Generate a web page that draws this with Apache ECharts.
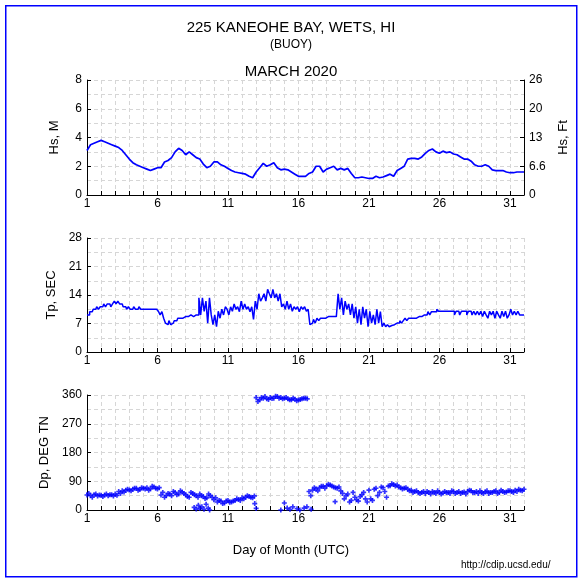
<!DOCTYPE html>
<html><head><meta charset="utf-8">
<script src="https://cdn.jsdelivr.net/npm/echarts@6/dist/echarts.min.js"></script>
<style>html,body{margin:0;padding:0;background:#fff}#c{width:582px;height:581px}</style>
</head><body><div id="c"></div>
<script>
// Hs: 4 samples per day starting March 1 00:00 (day value 1.0)
const hsM = [
 3.1,3.5,3.6,3.7, 3.8,3.7,3.6,3.5, 3.4,3.3,3.1,2.8, 2.5,2.25,2.1,2.0,
 1.9,1.8,1.7,1.8, 1.9,1.9,2.3,2.4, 2.6,3.0,3.25,3.1, 2.8,3.0,2.8,2.6,
 2.5,2.15,1.9,2.0, 2.3,2.3,2.1,2.0, 1.85,1.7,1.6,1.55, 1.5,1.45,1.3,1.2,
 1.6,1.9,2.2,2.0, 2.1,2.25,1.9,1.75, 1.8,1.75,1.6,1.45, 1.3,1.3,1.3,1.5,
 1.6,2.0,2.0,1.6, 1.8,1.9,2.0,1.75, 1.85,1.75,1.85,1.5, 1.2,1.2,1.25,1.2,
 1.15,1.15,1.3,1.2, 1.25,1.35,1.45,1.3, 1.7,1.85,2.0,2.5, 2.55,2.55,2.5,2.65,
 2.9,3.1,3.2,3.0, 2.9,3.05,2.95,3.0, 2.85,2.8,2.65,2.5, 2.5,2.35,2.1,2.0,
 2.0,2.1,2.0,1.75, 1.7,1.7,1.7,1.6, 1.55,1.55,1.6,1.6, 1.6
];
// Tp: 8 samples per day starting March 1 00:00
const tpSec = [
 9.1,9.1,9.9,9.9,10.5,10.5,11.1,10.5,
 11.1,11.1,11.8,11.1,11.8,11.8,11.1,11.8,
 12.5,11.8,12.5,11.8,11.8,11.1,11.1,10.5,
 11.1,10.5,10.5,11.1,10.5,10.5,11.1,10.5,
 10.5,10.5,10.5,10.5,10.5,10.5,10.5,10.5,
 10.5,10.0,9.1,9.9,8.3,7.1,6.7,7.7,
 6.7,7.1,7.7,7.7,8.3,8.3,8.3,8.7,
 8.7,8.7,8.7,9.1,8.7,8.7,9.1,9.1,
 13.3,9.1,13.3,10.0,12.5,7.1,13.3,9.1,
 6.7,9.1,6.2,10.0,8.3,10.5,9.1,11.1,
 10.5,9.1,11.1,10.0,11.8,10.5,11.1,9.9,
 12.5,10.5,11.8,10.5,11.1,9.9,11.1,8.0,
 12.5,10.5,14.3,12.5,13.3,14.3,12.5,15.4,
 14.3,13.3,15.4,13.3,14.3,12.5,14.3,11.1,
 11.8,10.5,12.5,10.5,11.8,10.0,11.1,10.5,
 11.1,9.9,11.1,10.5,11.1,10.0,10.5,6.7,
 7.1,8.0,7.1,8.3,7.7,8.3,8.3,8.3,
 8.7,8.7,8.7,8.7,8.7,8.7,8.3,14.3,
 10.5,13.3,9.1,12.5,10.5,11.8,9.1,11.8,
 8.3,11.1,7.1,10.5,6.7,11.1,8.3,10.5,
 6.2,10.0,7.1,9.1,6.7,10.5,7.1,9.9,
 6.2,7.1,6.2,6.7,6.2,6.5,6.7,6.7,
 7.1,7.1,7.7,7.1,7.7,8.3,7.7,8.3,
 8.3,8.3,8.7,8.3,8.7,9.1,8.7,9.1,
 9.1,9.1,9.9,9.1,9.9,9.9,9.9,10.5,
 10.0,10.0,10.0,10.0,10.0,10.0,10.0,10.0,
 10.0,9.1,10.0,10.0,9.1,10.0,10.0,10.0,
 9.1,10.0,10.0,9.1,10.0,9.1,10.0,9.1,
 10.0,8.7,10.0,9.1,8.3,10.0,9.1,10.0,
 8.3,10.0,9.1,8.3,10.0,8.7,10.0,8.3,
 9.1,10.5,9.1,10.0,9.1,10.0,9.1,9.1,
 9.1
];
// Dp at 00,06,12,18 UTC
const dpMain = [
 47,45,48,44, 46,47,45,48, 50,58,60,62, 63,65,68,64, 68,70,66,72, 66,47,40,52,
 45,55,50,56, 48,40,52,45, 50,42,38,45, 32,25,28,22, 30,25,30,33, 38,40,42,38,
 352,345,350,348, 352,350,355,352, 350,348,345,347, 344,348,350,58,
 62,66,70,74, 76,78,72,68, 60,35,50,30, 40,28,48,35, 62,30,68,55, 70,40,76,80,
 78,70,68,65, 62,58,55,55, 52,55,58,52, 55,53,55,52, 58,55,52,56, 58,60,55,52,
 55,57,52,55, 60,55,58,56, 60,55,58,62, 65
];
// Dp at 03,09,15,21 UTC
const dpOff = [
 52,40,50,47, 42,50,48,44, 46,52,56,65, 60,68,62,70, 66,62,74,68, 70,55,45,50,
 58,48,60,52, 42,55,48,40, 45,36,50,40, 38,30,20,28, 24,28,35,30, 35,45,40,44,
 340,352,355,346, 349,356,350,348, 352,345,350,342, 346,350,348,45,
 70,60,74,68, 80,75,70,72, 52,45,25,55, 32,42,55,25, 35,65,45,72, 58,75,82,75,
 72,66,70,60, 55,60,52,58, 58,50,55,60, 50,58,55,60, 52,58,55,50, 62,55,58,60,
 52,60,55,58, 52,62,55,60, 58,62,65,60
];
const dpLowDays = [8.6,8.75,8.9,9.0,9.15,9.3,9.45,9.6,9.7,12.9,13.0,14.75,15.0,15.2,15.4,15.6,15.9,16.1,16.4,16.6,16.9,18.6];
const dpLowVals = [8,3,15,5,10,2,18,6,0,20,5,0,22,6,2,10,4,0,6,10,2,26];

const dayLabels = ['1','6','11','16','21','26','31'];
const ftLabels = ['0','6.6','13','20','26'];
const mLabels = ['0','2','4','6','8'];

const blue = '#0000ff';
const FONT = 'Liberation Sans';
const plus = 'path://M2,0H4V2H6V4H4V6H2V4H0V2H2Z';

const grids = [
  {left:87, right:58, top:80, height:115},
  {left:87, right:58, top:238, height:114},
  {left:87, right:58, top:395, height:115}
];
function xAx(i){
  return {type:'value', gridIndex:i, min:1, max:32, interval:1,
    axisLine:{show:true, onZero:false, lineStyle:{color:'#000', width:1}},
    axisTick:{show:true, inside:true, length:4, lineStyle:{color:'#000'}},
    axisLabel:{color:'#000', fontFamily:FONT, fontSize:12, margin:3, showMinLabel:true, showMaxLabel:true,
      formatter:v=> dayLabels.indexOf(String(v))>=0 ? String(v) : ''},
    splitLine:{show:true, lineStyle:{color:'#d6d6d6', type:[4,3]}}};
}
function yAx(i, max, intv, name, gap){
  return {type:'value', gridIndex:i, min:0, max:max, interval:intv,
    name:name, nameLocation:'middle', nameGap:gap, nameRotate:90,
    nameTextStyle:{color:'#000', fontFamily:FONT, fontSize:13},
    axisLine:{show:true, onZero:false, lineStyle:{color:'#000'}},
    axisTick:{show:true, inside:true, length:4, lineStyle:{color:'#000'}},
    axisLabel:{color:'#000', fontFamily:FONT, fontSize:12, margin:5},
    splitLine:{show:true, lineStyle:{color:'#d6d6d6', type:[4,3]}},
    minorTick:{show:false, splitNumber:2},
    minorSplitLine:{show:true, lineStyle:{color:'#d6d6d6', type:[4,3]}}};
}
const yTop = yAx(0, 8, 2, 'Hs, M', 26);
yTop.axisLabel.formatter = v => mLabels[v/2];
const yRight = {type:'value', gridIndex:0, position:'right', min:0, max:8, interval:2,
  name:'Hs, Ft', nameLocation:'middle', nameGap:14, nameRotate:90,
  nameTextStyle:{color:'#000', fontFamily:FONT, fontSize:13},
  axisLine:{show:true, onZero:false, lineStyle:{color:'#000'}},
  axisTick:{show:true, inside:true, length:4, lineStyle:{color:'#000'}},
  axisLabel:{color:'#000', fontFamily:FONT, fontSize:12, margin:5, formatter:v=>ftLabels[v/2]},
  splitLine:{show:false}};

const hsData = hsM.map((v,i)=>[1+i/4, v]);
const tpData = tpSec.map((v,i)=>[1+i/8, v]);
const dpData1 = dpMain.map((v,i)=>[1+i/4, v]);
const dpData2 = dpOff.map((v,i)=>[1.125+i/4, v]);
const dpData3 = dpLowDays.map((d,i)=>[d, dpLowVals[i]]);

const chart = echarts.init(document.getElementById('c'), null, {renderer:'canvas'});
chart.setOption({
  backgroundColor:'#fff',
  animation:false,
  title:[
    {text:'225 KANEOHE BAY, WETS, HI', left:'center', top:15, textStyle:{fontFamily:FONT, fontSize:15, fontWeight:'normal', color:'#000'}},
    {text:'(BUOY)', left:'center', top:34, textStyle:{fontFamily:FONT, fontSize:12, fontWeight:'normal', color:'#000'}},
    {text:'MARCH 2020', left:'center', top:59, textStyle:{fontFamily:FONT, fontSize:15, fontWeight:'normal', color:'#000'}},
    {text:'Day of Month (UTC)', left:'center', top:539, textStyle:{fontFamily:FONT, fontSize:13, fontWeight:'normal', color:'#000'}},
    {text:'http://cdip.ucsd.edu/', left:456, top:555, textStyle:{fontFamily:FONT, fontSize:10, fontWeight:'normal', color:'#000'}}
  ],
  graphic:[{type:'rect', left:5, top:5, shape:{x:0, y:0, width:571, height:571}, style:{fill:'transparent', stroke:'#0000ff', lineWidth:1.5}, silent:true, z:100}],
  grid:grids,
  xAxis:[xAx(0), xAx(1), xAx(2)],
  yAxis:[yTop, yRight, yAx(1, 28, 7, 'Tp, SEC', 26), yAx(2, 360, 90, 'Dp, DEG TN', 26)],
  series:[
    {type:'line', xAxisIndex:0, yAxisIndex:0, data:hsData, symbol:'none', lineStyle:{color:blue, width:1.7}},
    {type:'line', xAxisIndex:1, yAxisIndex:2, data:tpData, symbol:'none', step:'middle', lineStyle:{color:blue, width:1.5}},
    {type:'scatter', xAxisIndex:2, yAxisIndex:3, data:dpData1, symbol:plus, symbolSize:5, itemStyle:{color:blue}},
    {type:'scatter', xAxisIndex:2, yAxisIndex:3, data:dpData2, symbol:plus, symbolSize:5, itemStyle:{color:blue}},
    {type:'scatter', xAxisIndex:2, yAxisIndex:3, data:dpData3, symbol:plus, symbolSize:5, itemStyle:{color:blue}}
  ]
});
</script></body></html>
